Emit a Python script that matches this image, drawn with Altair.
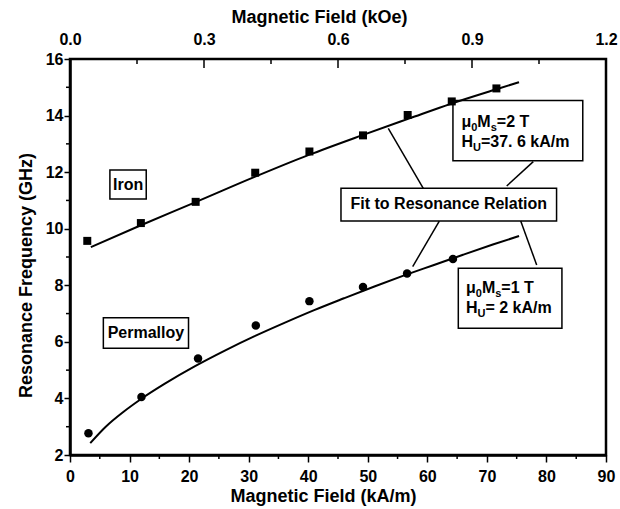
import altair as alt
import pandas as pd

# Measured ferromagnetic resonance frequencies (GHz) versus applied field (kA/m)
iron_field = [2.9, 11.9, 21.1, 31.1, 40.2, 49.2, 56.7, 64.1, 71.6]
iron_freq = [9.57, 10.20, 10.95, 11.98, 12.73, 13.30, 14.02, 14.50, 14.96]
permalloy_field = [3.1, 12.0, 21.5, 31.2, 40.2, 49.2, 56.6, 64.3]
permalloy_freq = [2.77, 4.05, 5.41, 6.58, 7.44, 7.94, 8.42, 8.93]

# Fitted resonance curves
iron_fit_field = [3.5, 12, 21, 31, 40, 49, 57, 64, 71.6, 75.4]
iron_fit_freq = [9.35, 10.13, 10.93, 11.83, 12.60, 13.30, 13.90, 14.42, 14.93, 15.18]
permalloy_fit_field = [3.4, 6, 9, 12, 16, 21, 26, 31, 36, 41, 46, 51, 56, 61, 66, 71, 75.4]
permalloy_fit_freq = [2.42, 3.00, 3.53, 3.99, 4.53, 5.14, 5.69, 6.20, 6.67, 7.12,
                      7.54, 7.95, 8.34, 8.71, 9.08, 9.44, 9.74]

# Axis ticks
field_major = list(range(0, 100, 10))
field_minor = list(range(5, 90, 10))
freq_major = list(range(2, 18, 2))
freq_minor = list(range(3, 16, 2))
koe_labels = [0.0, 0.3, 0.6, 0.9, 1.2]
koe_major = [0.3, 0.6, 0.9]
koe_minor = [0.15, 0.45, 0.75, 1.05]

FONT = "Liberation Sans"
W, H = 536, 396
X_DOM = [0, 90]
Y_DOM = [2, 16]
ux = (X_DOM[1] - X_DOM[0]) / W   # data units per pixel
uy = (Y_DOM[1] - Y_DOM[0]) / H

xs = alt.Scale(domain=X_DOM, nice=False, zero=False)
ys = alt.Scale(domain=Y_DOM, nice=False, zero=False)

x_axis = alt.Axis(values=field_major, tickSize=7, tickWidth=1.5, labelPadding=6,
                  labelFlush=False, labelOverlap=False, title="Magnetic Field (kA/m)",
                  titlePadding=3, titleX=253)
y_axis = alt.Axis(values=freq_major, tickSize=6, tickWidth=1.5, labelPadding=1,
                  labelOverlap=False, title="Resonance Frequency (GHz)",
                  titlePadding=10, titleY=216)

X = lambda f: alt.X(f, type="quantitative", scale=xs, axis=x_axis)
Y = lambda f: alt.Y(f, type="quantitative", scale=ys, axis=y_axis)

iron_df = pd.DataFrame({"H": iron_field, "f": iron_freq})
perm_df = pd.DataFrame({"H": permalloy_field, "f": permalloy_freq})
iron_fit_df = pd.DataFrame({"H": iron_fit_field, "f": iron_fit_freq})
perm_fit_df = pd.DataFrame({"H": permalloy_fit_field, "f": permalloy_fit_freq})

fit_iron = alt.Chart(iron_fit_df).mark_line(color="black", strokeWidth=2, interpolate="monotone").encode(x=X("H"), y=Y("f"))
fit_perm = alt.Chart(perm_fit_df).mark_line(color="black", strokeWidth=2, interpolate="monotone").encode(x=X("H"), y=Y("f"))
pts_iron = alt.Chart(iron_df).mark_point(shape="square", filled=True, color="black", size=64, opacity=1).encode(x=X("H"), y=Y("f"))
pts_perm = alt.Chart(perm_df).mark_point(shape="circle", filled=True, color="black", size=72, opacity=1).encode(x=X("H"), y=Y("f"))

# Minor ticks drawn just outside the frame
minor_x = alt.Chart(pd.DataFrame({"H": field_minor})).mark_rule(color="black", strokeWidth=1.5).encode(
    x=X("H"), y=alt.value(H), y2=alt.value(H + 4))
minor_y = alt.Chart(pd.DataFrame({"f": freq_minor})).mark_rule(color="black", strokeWidth=1.5).encode(
    y=Y("f"), x=alt.value(0), x2=alt.value(-4))

# Annotation boxes
boxes = pd.DataFrame([
    {"x": 6.7, "x2": 12.8, "y": 11.05, "y2": 12.08},
    {"x": 5.6, "x2": 19.9, "y": 5.77, "y2": 6.85},
    {"x": 45.5, "x2": 81.7, "y": 10.27, "y2": 11.43},
    {"x": 64.3, "x2": 86.1, "y": 12.40, "y2": 14.53},
    {"x": 65.2, "x2": 82.6, "y": 6.48, "y2": 8.60},
])
box_layer = alt.Chart(boxes).mark_rect(fill="white", stroke="black", strokeWidth=1.5).encode(
    x=X("x"), x2="x2", y=Y("y"), y2="y2")

labels = pd.DataFrame([
    {"x": 9.75, "y": 11.56, "t": "Iron"},
    {"x": 12.75, "y": 6.31, "t": "Permalloy"},
    {"x": 63.6, "y": 10.88, "t": "Fit to Resonance Relation"},
])
label_layer = alt.Chart(labels).mark_text(font=FONT, fontWeight="bold", fontSize=16, color="black",
                                          align="center", baseline="middle").encode(
    x=X("x"), y=Y("y"), text="t")

# Parameter text with subscripts, laid out run by run
ADV = {"μ": 0.611, "0": 0.556, "M": 0.833, "s": 0.556, "H": 0.722, "U": 0.722}
MAIN, SUB = 16, 11


def run(x0, y0, pieces):
    rows, x = [], x0
    for txt, sub in pieces:
        size = SUB if sub else MAIN
        rows.append({"x": x, "y": y0 - (4 * uy if sub else 0), "t": txt, "s": size})
        if txt in ADV:
            x += ADV[txt] * size * ux
    return rows


param_rows = (
    run(65.73, 13.61, [("μ", 0), ("0", 1), ("M", 0), ("s", 1), ("=2 T", 0)])
    + run(65.73, 12.88, [("H", 0), ("U", 1), ("=37. 6 kA/m", 0)])
    + run(66.49, 7.72, [("μ", 0), ("0", 1), ("M", 0), ("s", 1), ("=1 T", 0)])
    + run(66.49, 7.01, [("H", 0), ("U", 1), ("= 2 kA/m", 0)])
)
param_layer = alt.Chart(pd.DataFrame(param_rows)).mark_text(
    font=FONT, fontWeight="bold", color="black", align="left", baseline="alphabetic").encode(
    x=X("x"), y=Y("y"), text="t", size=alt.Size("s:Q", scale=None, legend=None))

# Pointer lines from the annotation boxes
pointers = pd.DataFrame([
    {"x": 59.32, "y": 11.43, "x2": 53.44, "y2": 13.55},
    {"x": 73.33, "y": 11.51, "x2": 77.79, "y2": 12.37},
    {"x": 62.01, "y": 10.27, "x2": 57.54, "y2": 8.66},
    {"x": 75.68, "y": 10.27, "x2": 78.36, "y2": 8.72},
])
pointer_layer = alt.Chart(pointers).mark_rule(color="black", strokeWidth=1.5).encode(
    x=X("x"), y=Y("y"), x2="x2", y2="y2")

main = alt.layer(box_layer, fit_iron, fit_perm, pts_iron, pts_perm, pointer_layer,
                 label_layer, param_layer, minor_x, minor_y)

# Secondary field axis in kOe along the top, ticks pointing inward
koe_scale = alt.Scale(domain=[0, 1.2], nice=False, zero=False)
koe_axis = alt.Axis(orient="top", values=koe_labels, format=".1f", ticks=False, domain=False,
                    labelPadding=12, labelFlush=False, labelOverlap=False,
                    title="Magnetic Field (kOe)", titlePadding=5, titleX=249)
KX = lambda f: alt.X(f, type="quantitative", scale=koe_scale, axis=koe_axis)
top_major = alt.Chart(pd.DataFrame({"k": koe_major})).mark_rule(color="black", strokeWidth=1.5).encode(
    x=KX("k"), y=alt.value(0), y2=alt.value(9))
top_minor = alt.Chart(pd.DataFrame({"k": koe_minor})).mark_rule(color="black", strokeWidth=1.5).encode(
    x=KX("k"), y=alt.value(0), y2=alt.value(5))
top = alt.layer(top_major, top_minor)

chart = (
    alt.layer(main, top)
    .resolve_scale(x="independent")
    .properties(width=W, height=H,
                padding={"left": 70, "top": 59, "right": 14, "bottom": 54},
                autosize=alt.AutoSizeParams(type="none"),
                background="white")
    .configure_view(stroke="black", strokeWidth=2.5)
    .configure_axis(domainColor="black", domainWidth=2.5, tickColor="black", grid=False,
                    labelFont=FONT, labelFontWeight="bold", labelFontSize=16, labelColor="black",
                    titleFont=FONT, titleFontWeight="bold", titleFontSize=18, titleColor="black")
)

chart.save("out.html", embed_options={"renderer": "svg", "actions": False})
